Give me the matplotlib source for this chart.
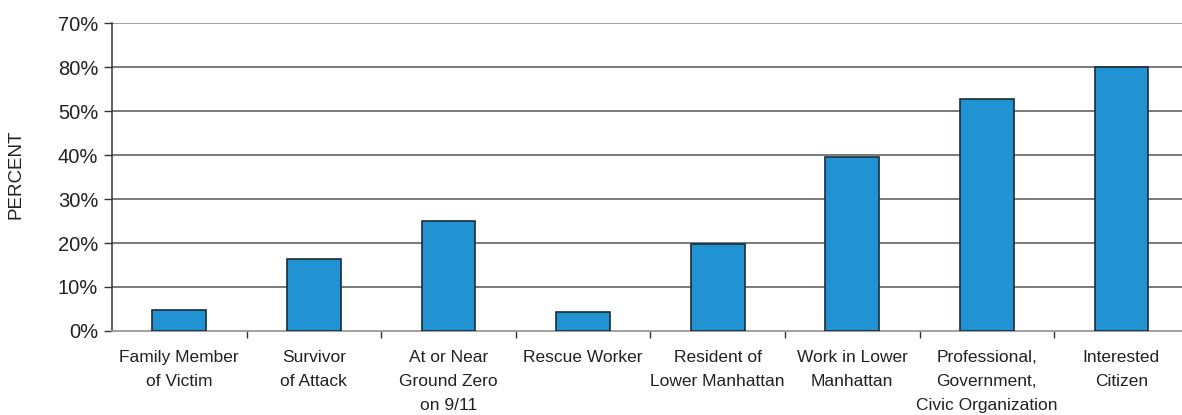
import matplotlib
matplotlib.use("Agg")
import matplotlib.pyplot as plt
import numpy as np

categories = ["Family Member\nof Victim", "Survivor\nof Attack", "At or Near\nGround Zero\non 9/11",
              "Rescue Worker", "Resident of\nLower Manhattan", "Work in Lower\nManhattan",
              "Professional,\nGovernment,\nCivic Organization", "Interested\nCitizen"]
values = [4.8, 16.4, 25.0, 4.3, 19.8, 39.5, 52.7, 60.0]
ytick_vals = [0, 10, 20, 30, 40, 50, 60, 70]
ytick_labels = ["0%", "10%", "20%", "30%", "40%", "50%", "80%", "70%"]

plt.rcParams['font.family'] = ['Liberation Sans', 'DejaVu Sans']

fig = plt.figure(figsize=(11.82, 4.15), dpi=100)
ax = fig.add_axes([112/1182, 1-331/415, (1182-112)/1182, (331-23)/415])

x = np.arange(len(categories))
ax.set_axisbelow(True)
ax.bar(x, values, width=0.4, color="#2193d2", edgecolor="#1c2b38", linewidth=1.2, zorder=3)

ax.set_xlim(-0.5, 7.45)
ax.set_ylim(0, 70)
ax.set_yticks(ytick_vals)
ax.set_yticklabels(ytick_labels, fontsize=14.5, color="#222222")
for i, v in enumerate(ytick_vals):
    if v == 0:
        continue
    ax.axhline(v, color="#555555" if v < 70 else "#888888", linewidth=1.1, zorder=1)

ax.set_xticks(x)
ax.set_xticklabels(categories, fontsize=12.5, color="#222222", linespacing=1.72)
ax.tick_params(axis='x', which='major', length=0, pad=14)
ax.set_xticks(np.arange(-0.5, 7.5, 1.0)[1:], minor=True)
ax.tick_params(axis='x', which='minor', length=5, color="#333333", width=1)
ax.tick_params(axis='y', length=6, color="#333333", width=1, pad=4)

for s in ["top", "right"]:
    ax.spines[s].set_visible(False)
ax.spines["left"].set_color("#333333")
ax.spines["left"].set_linewidth(1.1)
ax.spines["bottom"].set_color("#999999")
ax.spines["bottom"].set_linewidth(1.3)

fig.text(16/1182, 1-174/415, "PERCENT", rotation=90, fontsize=13.5, color="#222222",
         ha="center", va="center")

fig.savefig("out.png", dpi=100)
